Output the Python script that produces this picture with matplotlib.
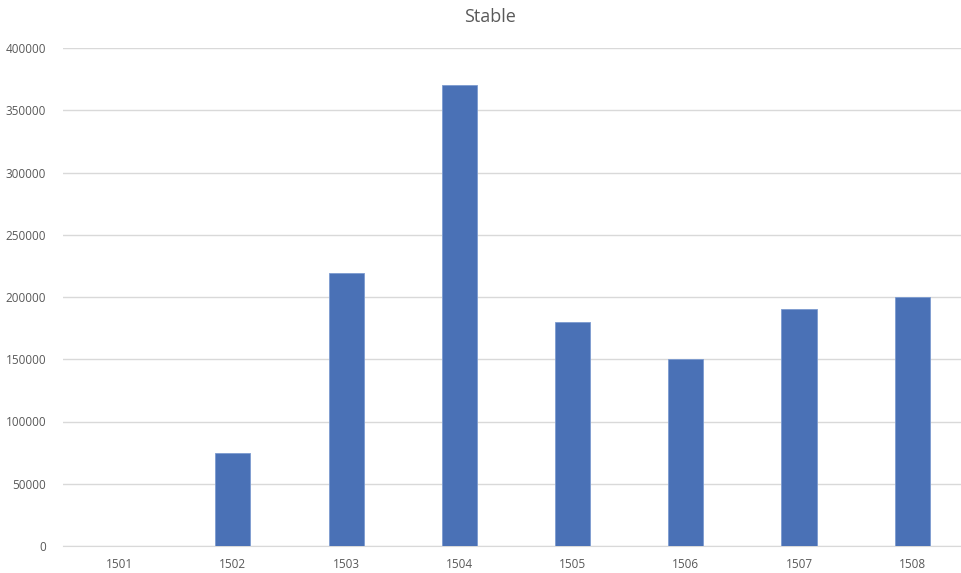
import matplotlib.pyplot as plt

categories = ["1501", "1502", "1503", "1504", "1505", "1506", "1507", "1508"]
values = [0, 75000, 219000, 370000, 180000, 150000, 190000, 200000]
yticks = [0, 50000, 100000, 150000, 200000, 250000, 300000, 350000, 400000]

plt.rcParams["font.family"] = ["Open Sans", "DejaVu Sans"]

fig = plt.figure(figsize=(9.62, 5.73), dpi=100)
ax = fig.add_axes([63 / 962, 27 / 573, 899 / 962, 498 / 573])

x = range(len(categories))
ax.bar(x, values, width=0.31, color="#4a71b6", edgecolor="#7c9bd0", linewidth=0.6, zorder=3)

ax.set_xlim(-0.5, 7.44)
ax.set_ylim(0, 400000)
ax.set_yticks(yticks)
ax.set_yticklabels([str(v) for v in yticks])
ax.set_xticks(list(x))
ax.set_xticklabels(categories)
ax.grid(axis="y", color="#d9d9d9", linewidth=1, zorder=0)
for s in ["top", "right", "left"]:
    ax.spines[s].set_visible(False)
ax.spines["bottom"].set_color("#d9d9d9")
ax.tick_params(length=0, colors="#595959", labelsize=8.5)
ax.tick_params(axis="y", pad=12)
ax.tick_params(axis="x", pad=9)

fig.text(490 / 962, 1 - 17 / 573, "Stable", ha="center", va="center", fontsize=13, color="#595959")

fig.savefig("out.png", dpi=100)
